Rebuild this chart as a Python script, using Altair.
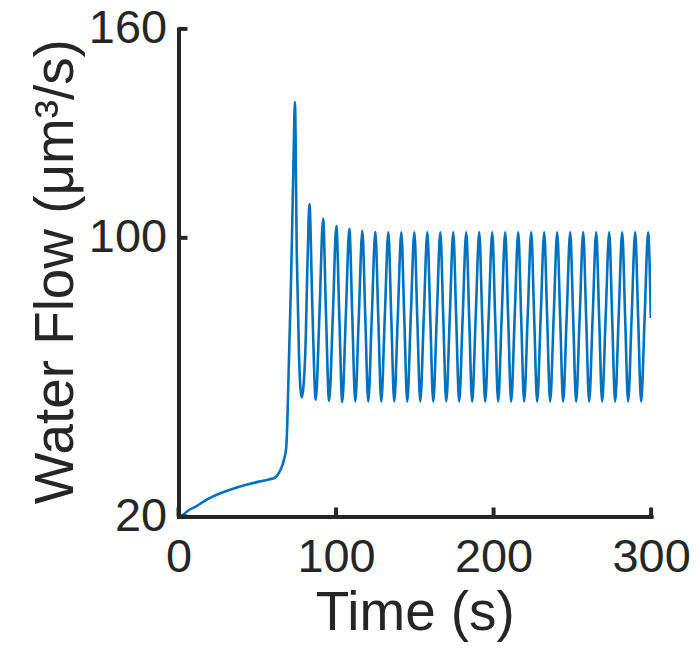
import altair as alt
import pandas as pd

# ---- data ----
ramp_time = [2.5, 6.25, 11.2, 18.2, 26.2, 34.1, 43.1, 51.05, 58.0, 61.0, 63.0, 65.0,
             67.0, 68.3, 69.0, 69.6, 70.4, 71.3, 72.2, 73.0, 73.9]
ramp_flow = [20.3, 21.7, 22.9, 24.9, 26.6, 27.9, 29.1, 30.0, 30.7, 31.1, 32.0, 33.6,
             36.4, 39.5, 46.0, 56.0, 70.0, 85.0, 104.0, 122.0, 139.0]

settle_time = [75.1, 76.5, 78.2, 80.4, 82.0, 83.1, 85.0, 87.1, 89.5, 91.8, 93.6,
               95.6, 98.0]
settle_flow = [95.0, 66.0, 54.2, 66.0, 94.7, 109.7, 79.5, 53.5, 78.5, 105.5, 78.5,
               53.2, 78.0]

osc_time = [100.2, 102.05, 103.95, 106.2,
            108.45, 110.3, 112.2, 114.45,
            116.7, 118.55, 120.45, 122.7,
            124.95, 126.8, 128.7, 130.95,
            133.2, 135.05, 136.95, 139.2,
            141.45, 143.3, 145.2, 147.45,
            149.7, 151.55, 153.45, 155.7,
            157.95, 159.8, 161.7, 163.95,
            166.2, 168.05, 169.95, 172.2,
            174.4, 176.25, 178.15, 180.4,
            182.65, 184.5, 186.4, 188.65,
            190.9, 192.75, 194.65, 196.9,
            199.15, 201.0, 202.9, 205.15,
            207.4, 209.25, 211.15, 213.4,
            215.65, 217.5, 219.4, 221.65,
            223.9, 225.75, 227.65, 229.9,
            232.15, 234.0, 235.9, 238.15,
            240.4, 242.25, 244.15, 246.4,
            248.65, 250.5, 252.4, 254.65,
            256.9, 258.75, 260.65, 262.9,
            265.15, 267.0, 268.9, 271.15,
            273.4, 275.25, 277.15, 279.4,
            281.65, 283.5, 285.4, 287.65,
            289.9, 291.75, 293.65, 295.9,
            298.1, 299.8]
osc_flow = [103.4, 78.0, 52.9, 77.5,
            102.6, 77.6, 53.0, 77.4,
            102.0, 77.4, 53.0, 77.3,
            101.7, 77.3, 53.0, 77.3,
            101.6, 77.3, 53.0, 77.3,
            101.6, 77.3, 53.0, 77.3,
            101.6, 77.3, 53.0, 77.3,
            101.6, 77.3, 53.0, 77.3,
            101.6, 77.3, 53.0, 77.3,
            101.6, 77.3, 53.0, 77.3,
            101.6, 77.3, 53.0, 77.3,
            101.6, 77.3, 53.0, 77.3,
            101.6, 77.3, 53.0, 77.3,
            101.6, 77.3, 53.0, 77.3,
            101.6, 77.3, 53.0, 77.3,
            101.6, 77.3, 53.0, 77.3,
            101.6, 77.3, 53.0, 77.3,
            101.6, 77.3, 53.0, 77.3,
            101.6, 77.3, 53.0, 77.3,
            101.6, 77.3, 53.0, 77.3,
            101.6, 77.3, 53.0, 77.3,
            101.6, 77.3, 53.0, 77.3,
            101.6, 77.3, 53.0, 77.3,
            101.6, 77.3, 53.0, 77.3,
            101.6, 77.0]

x_ticks = [0, 100, 200, 300]
y_ticks = [20, 100, 160]

df = pd.DataFrame({
    "t": ramp_time + settle_time + osc_time,
    "q": ramp_flow + settle_flow + osc_flow,
})

W, H = 474, 489
AX = "#262626"
FONT = "Liberation Sans"

x_scale = alt.Scale(domain=[0, 300], nice=False, zero=False)
y_scale = alt.Scale(domain=[20, 160], nice=False, zero=False)

common_axis = dict(
    domainColor=AX, domainWidth=4, domainCap="square",
    ticks=False, tickSize=0, grid=False,
    labelFont=FONT, labelFontSize=47, labelColor=AX,
    labelFlush=False, labelOverlap=False,
    titleFont=FONT, titleFontSize=55, titleColor=AX, titleFontWeight="normal",
)

x_axis = alt.Axis(values=x_ticks, title="Time (s)", labelPadding=18,
                  titleY=113, titleBaseline="alphabetic", **common_axis)
y_axis = alt.Axis(values=y_ticks, title="Water Flow (μm³/s)", labelPadding=12,
                  titleX=-106, titleY=243, titleAngle=270,
                  titleAlign="center", titleBaseline="alphabetic", **common_axis)

line = alt.Chart(df).mark_line(
    color="#0072BD", strokeWidth=2.6, interpolate="monotone", clip=True
).encode(
    x=alt.X("t:Q", scale=x_scale, axis=x_axis),
    y=alt.Y("q:Q", scale=y_scale, axis=y_axis),
)

ytick = alt.Chart(pd.DataFrame({"v": y_ticks})).mark_rule(
    color=AX, strokeWidth=4
).encode(
    y=alt.Y("v:Q", scale=y_scale, axis=y_axis),
    x=alt.value(0), x2=alt.value(9),
)

xtick = alt.Chart(pd.DataFrame({"v": x_ticks})).mark_rule(
    color=AX, strokeWidth=4
).encode(
    x=alt.X("v:Q", scale=x_scale, axis=x_axis),
    y=alt.value(H), y2=alt.value(H - 9),
)

chart = alt.layer(line, ytick, xtick).properties(
    width=W, height=H,
    autosize=alt.AutoSizeParams(type="none"),
    padding={"left": 171, "top": 20, "right": 40, "bottom": 138},
    background="white",
).configure_view(stroke=None)

chart.save("out.html", embed_options={"renderer": "svg", "actions": False})
